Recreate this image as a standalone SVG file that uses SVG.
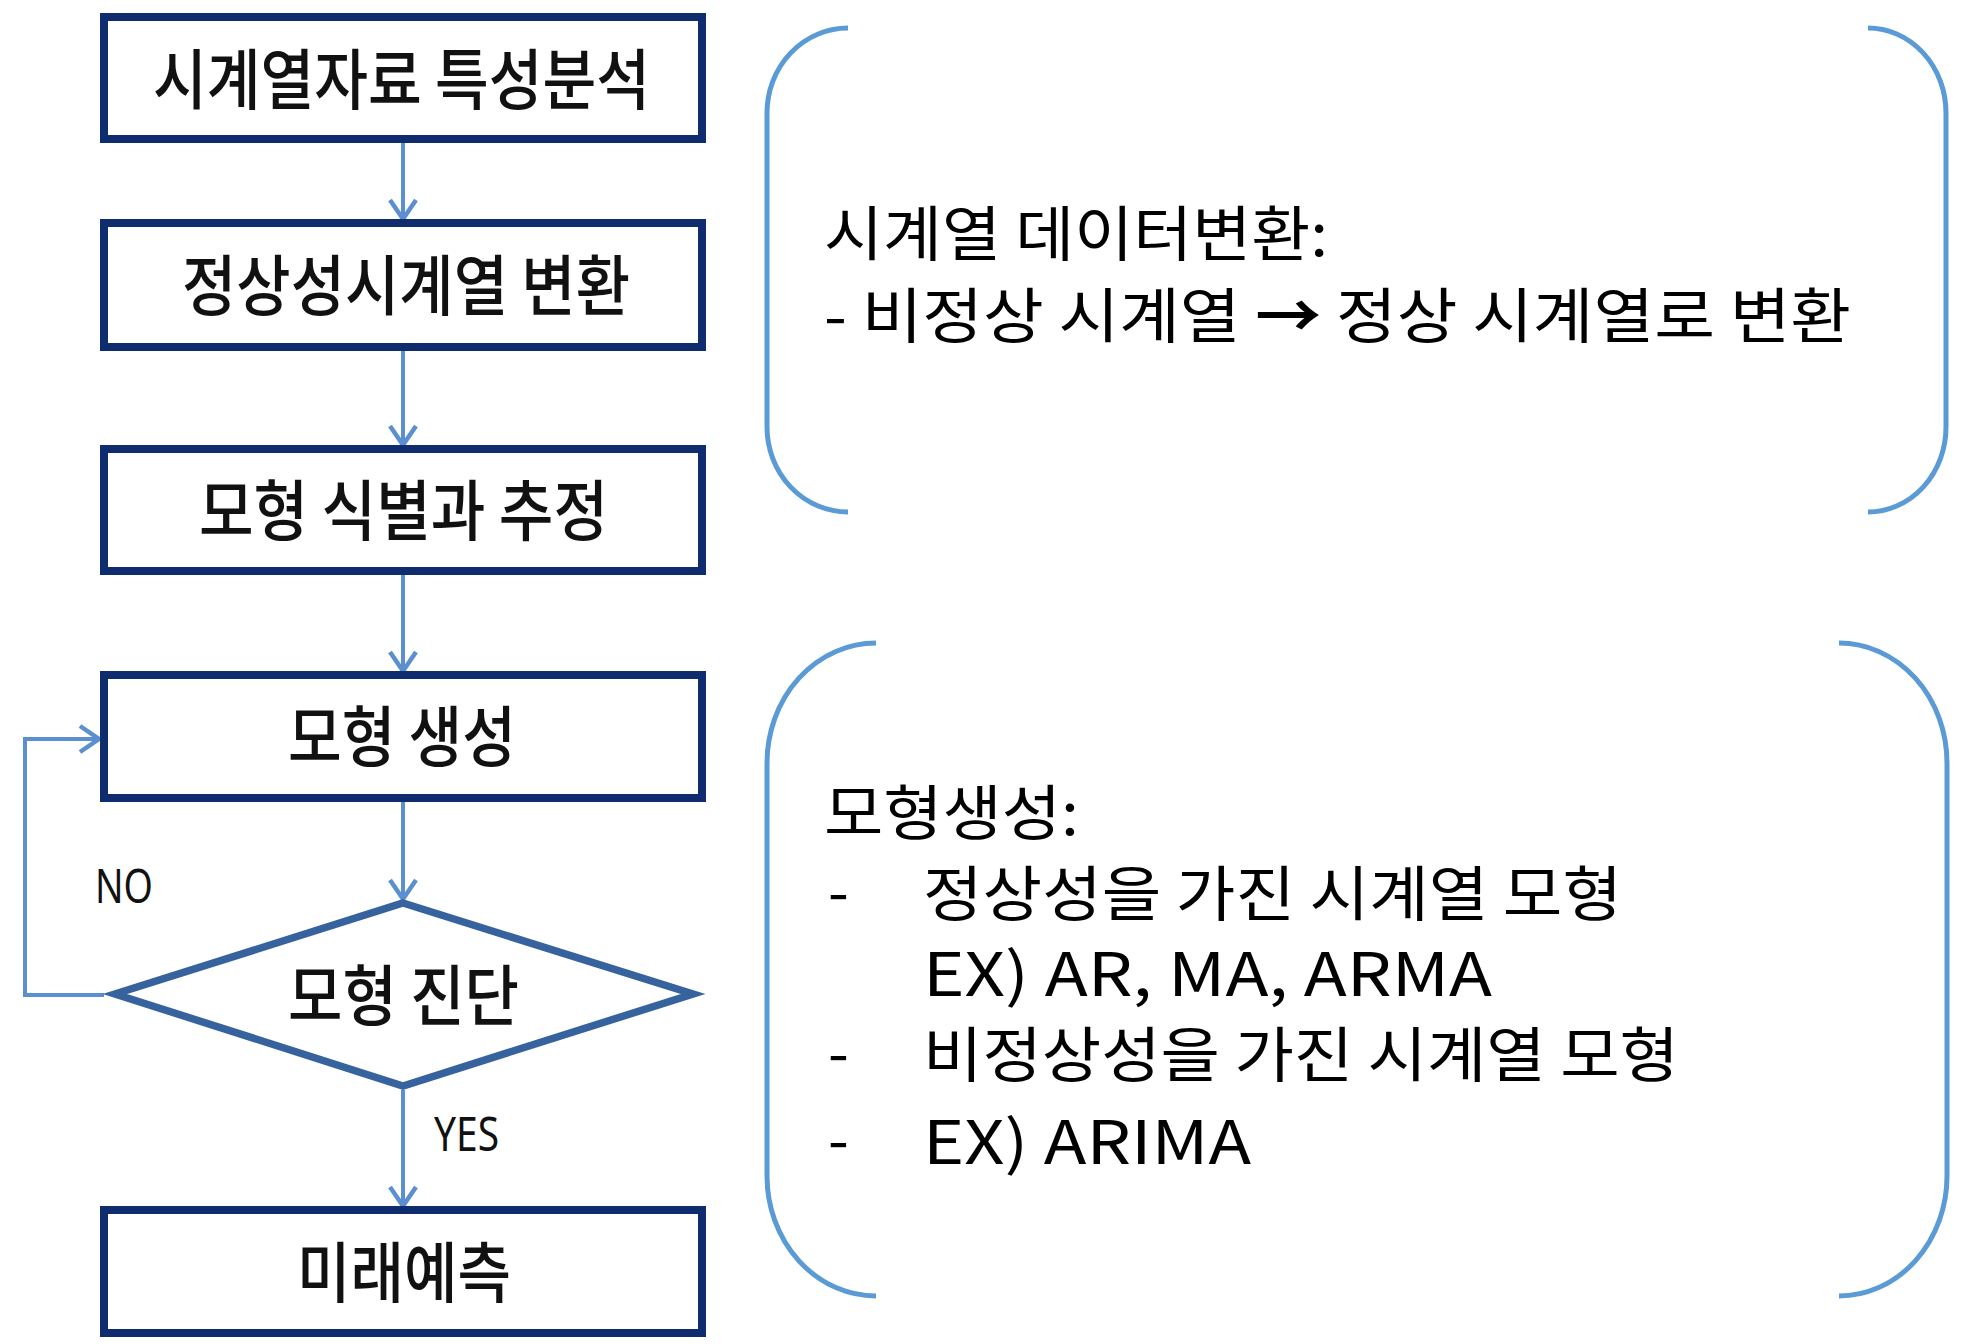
<svg xmlns="http://www.w3.org/2000/svg" width="1962" height="1344" viewBox="0 0 1962 1344">
<style>
.box{fill:#fff;stroke:#0f2c6e;stroke-width:8}
.dia{fill:#fff;stroke:#36629e;stroke-width:7.5;stroke-linejoin:miter}
.con{fill:none;stroke:#5b8fd0;stroke-width:4}
.brk{fill:none;stroke:#5b9bd5;stroke-width:5}
.lbl{font-family:"Noto Sans CJK KR","Noto Sans",sans-serif;font-weight:500;font-size:66px;fill:#111}
.yn{font-family:"Noto Sans","Liberation Sans",sans-serif;font-size:48px;fill:#111}
.note{font-family:"Noto Sans CJK KR","Noto Sans",sans-serif;font-size:60px;fill:#000}
</style>
<defs>
<marker id="ah" markerUnits="userSpaceOnUse" markerWidth="26" markerHeight="32" viewBox="-22 -16 26 32" refX="0" refY="0" orient="auto">
<path d="M-19,-13 L0,0 L-19,13" fill="none" stroke="#5b8fd0" stroke-width="4.5" stroke-linejoin="miter"/>
</marker>
</defs>
<rect width="1962" height="1344" fill="#fff"/>
<g id="connectors">
<line class="con" x1="403" y1="143" x2="403" y2="219" marker-end="url(#ah)"/>
<line class="con" x1="403" y1="351" x2="403" y2="445" marker-end="url(#ah)"/>
<line class="con" x1="403" y1="575" x2="403" y2="671" marker-end="url(#ah)"/>
<line class="con" x1="403" y1="802" x2="403" y2="899" marker-end="url(#ah)"/>
<line class="con" x1="403" y1="1090" x2="403" y2="1206" marker-end="url(#ah)"/>
<polyline class="con" points="104,995 25,995 25,739 99,739" marker-end="url(#ah)"/>
<text class="yn" x="95" y="903" textLength="58" lengthAdjust="spacingAndGlyphs">NO</text>
<text class="yn" x="434" y="1151" textLength="65" lengthAdjust="spacingAndGlyphs">YES</text>
</g>
<g id="n1">
<rect class="box" x="104" y="17" width="598" height="122"/>
<text class="lbl" x="153" y="104" textLength="497" lengthAdjust="spacingAndGlyphs">시계열자료 특성분석</text>
</g>
<g id="n2">
<rect class="box" x="104" y="223" width="598" height="124"/>
<text class="lbl" x="182" y="310" textLength="448" lengthAdjust="spacingAndGlyphs">정상성시계열 변환</text>
</g>
<g id="n3">
<rect class="box" x="104" y="449" width="598" height="122"/>
<text class="lbl" x="199" y="535" textLength="409" lengthAdjust="spacingAndGlyphs">모형 식별과 추정</text>
</g>
<g id="n4">
<rect class="box" x="104" y="675" width="598" height="123"/>
<text class="lbl" x="288" y="761" textLength="228" lengthAdjust="spacingAndGlyphs">모형 생성</text>
</g>
<g id="n5">
<polygon class="dia" points="403,903 693,994 403,1086 115,994"/>
<text class="lbl" x="288" y="1020" textLength="231" lengthAdjust="spacingAndGlyphs">모형 진단</text>
</g>
<g id="n6">
<rect class="box" x="104" y="1210" width="598" height="123"/>
<text class="lbl" x="297" y="1297" textLength="214" lengthAdjust="spacingAndGlyphs">미래예측</text>
</g>
<g id="note1">
<path class="brk" d="M848,28 A81,85 0 0 0 767,113 L767,427 A81,85 0 0 0 848,512"/>
<path class="brk" d="M1868,28 A78,85 0 0 1 1946,113 L1946,427 A78,85 0 0 1 1868,512"/>
<text class="note" x="824" y="256" textLength="504" lengthAdjust="spacingAndGlyphs">시계열 데이터변환:</text>
<text class="note" x="824" y="338" textLength="1027" lengthAdjust="spacingAndGlyphs">- 비정상 시계열 <tspan font-weight="700">→</tspan> 정상 시계열로 변환</text>
</g>
<g id="note2">
<path class="brk" d="M876,643 A109,120 0 0 0 767,763 L767,1176 A109,120 0 0 0 876,1296"/>
<path class="brk" d="M1839,643 A108,120 0 0 1 1947,763 L1947,1176 A108,120 0 0 1 1839,1296"/>
<text class="note" x="824" y="835" textLength="255" lengthAdjust="spacingAndGlyphs">모형생성:</text>
<text class="note" x="828" y="914">-</text>
<text class="note" x="923" y="916" textLength="699" lengthAdjust="spacingAndGlyphs">정상성을 가진 시계열 모형</text>
<text class="note" x="923" y="996" textLength="569" lengthAdjust="spacingAndGlyphs">EX) AR, MA, ARMA</text>
<text class="note" x="828" y="1075">-</text>
<text class="note" x="923" y="1077" textLength="756" lengthAdjust="spacingAndGlyphs">비정상성을 가진 시계열 모형</text>
<text class="note" x="828" y="1162">-</text>
<text class="note" x="923" y="1164" textLength="328" lengthAdjust="spacingAndGlyphs">EX) ARIMA</text>
</g>
</svg>
